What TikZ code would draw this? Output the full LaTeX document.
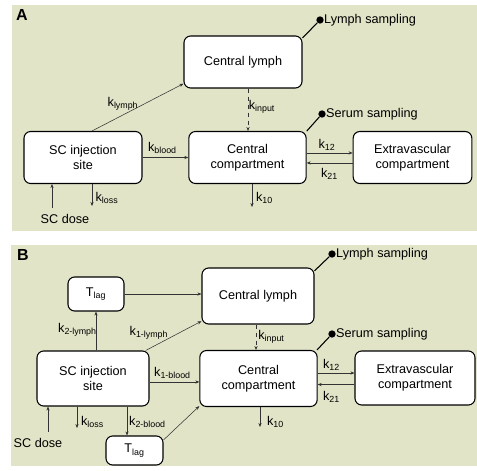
\documentclass[tikz,border=0pt]{standalone}
\usepackage{fontspec}
\setmainfont{Liberation Sans}
\usetikzlibrary{arrows.meta}

\definecolor{panelbg}{RGB}{226,228,199}
\tikzset{
  txt/.style={font=\fontsize{9.5}{11.5}\selectfont, inner sep=1pt},
  comp/.style={draw, line width=0.8pt, fill=white, rounded corners=5pt, align=center,
    font=\fontsize{9.5}{11.5}\selectfont},
  flow/.style={-{Stealth[length=3pt,width=2.4pt]}, line width=0.4pt, black!80},
  sampler/.style={circle, fill=black, inner sep=0pt, minimum size=5.5pt},
  sampline/.style={line width=0.8pt},
  panel/.style={font=\fontsize{12}{12}\selectfont\bfseries}
}

\begin{document}
\begin{tikzpicture}[x=0.75pt, y=-0.75pt]
\useasboundingbox (0,0) rectangle (477,470);
% Backgrounds
\fill[panelbg] (12,5) rectangle (477,231);
\fill[panelbg] (11,245) rectangle (477,466);

%%% Panel A
\node[panel] (labA) at (22,15) {A};
% Nodes
\node[comp, minimum width=88.5pt, minimum height=39pt] (lymphA) at (243,62) {Central lymph};
\node[comp, minimum width=88.5pt, minimum height=39pt] (injA) at (83,157.5) {SC injection\\site};
\node[comp, minimum width=88pt, minimum height=39pt] (centA) at (247.5,157.5) {Central\\compartment};
\node[comp, minimum width=89pt, minimum height=39pt] (extraA) at (412.5,157.5) {Extravascular\\compartment};
\node[sampler, label={[txt, xshift=-1pt]right:Lymph sampling}] (lsampA) at (320,20) {};
\node[sampler, label={[txt, xshift=-1pt]right:Serum sampling}] (ssampA) at (322,114) {};
\coordinate (doseA) at (52,208);
\coordinate (lossA) at (92,206);
\coordinate (elimA) at (252,207);
% Lines
\draw[sampline] (lymphA.22) -- (lsampA);
\draw[sampline] (centA.24) -- (ssampA);
\draw[flow] ([xshift=6.75pt]injA.north) -- (lymphA.200);
\draw[flow, dashed] ([xshift=3.75pt]lymphA.south) -- ([xshift=3.75pt]lymphA.south |- centA.north);
\draw[flow] (injA.east) -- (centA.west);
\draw[flow] ([yshift=3.4pt]centA.east) -- ([yshift=3.4pt]centA.east -| extraA.west);
\draw[flow] ([yshift=-4.1pt]extraA.west) -- ([yshift=-4.1pt]extraA.west -| centA.east);
\draw[flow] (elimA |- centA.south) -- (elimA);
\draw[flow] (lossA |- injA.south) -- (lossA);
\draw[flow] (doseA) -- (doseA |- injA.south);
% Labels
\node[txt] (klymphA) at (123,104) {k\textsubscript{lymph}};
\node[txt] (kinputA) at (262,107) {k\textsubscript{input}};
\node[txt] (kbloodA) at (162.5,148) {k\textsubscript{blood}};
\node[txt] (k12A) at (327,145) {k\textsubscript{12}};
\node[txt] (k21A) at (329.5,174) {k\textsubscript{21}};
\node[txt] (k10A) at (264.5,198) {k\textsubscript{10}};
\node[txt] (klossA) at (107,198) {k\textsubscript{loss}};
\node[txt] (doselabA) at (65,219) {SC dose};

%%% Panel B
\node[panel] (labB) at (23,255) {B};
% Nodes
\node[comp, minimum width=84pt, minimum height=42pt] (lymphB) at (258,296) {Central lymph};
\node[comp, minimum width=84pt, minimum height=41.25pt] (injB) at (93,378.5) {SC injection\\site};
\node[comp, minimum width=88pt, minimum height=42pt] (centB) at (258.5,378.5) {Central\\compartment};
\node[comp, minimum width=90pt, minimum height=40.5pt] (extraB) at (415,378) {Extravascular\\compartment};
\node[comp, minimum width=42pt, minimum height=25.5pt] (lagupB) at (96,294) {T\textsubscript{lag}};
\node[comp, minimum width=42.75pt, minimum height=21.75pt] (lagdownB) at (134.5,450.5) {T\textsubscript{lag}};
\node[sampler, label={[txt, xshift=-1pt]right:Lymph sampling}] (lsampB) at (332,254) {};
\node[sampler, label={[txt, xshift=-1pt]right:Serum sampling}] (ssampB) at (332,334) {};
\coordinate (doseB) at (48,432);
\coordinate (lossB) at (77,428);
\coordinate (elimB) at (260,427);
% Lines
\draw[sampline] (lymphB.24) -- (lsampB);
\draw[sampline] (centB.26) -- (ssampB);
\draw[flow] (lagupB.east) -- (lagupB.east -| lymphB.west);
\draw[flow] (lagupB.south |- injB.north) -- (lagupB.south);
\draw[flow] (injB.28) -- (lymphB.204);
\draw[flow] ([yshift=-2.6pt]injB.east) -- ([yshift=-2.6pt]injB.east -| centB.west);
\draw[flow, dashed] ([xshift=-1.5pt]lymphB.south) -- ([xshift=-1.5pt]lymphB.south |- centB.north);
\draw[flow] ([yshift=4.1pt]centB.east) -- ([yshift=4.1pt]centB.east -| extraB.west);
\draw[flow] ([yshift=-4.9pt]extraB.west) -- ([yshift=-4.9pt]extraB.west -| centB.east);
\draw[flow] (elimB |- centB.south) -- (elimB);
\draw[flow] (lossB |- injB.south) -- (lossB);
\draw[flow] ([xshift=25.5pt]injB.south) -- ([xshift=25.5pt]injB.south |- lagdownB.north);
\draw[flow] (lagdownB.20) -- (centB.205);
\draw[flow] (doseB) -- (doseB |- injB.south);
% Labels
\node[txt] (k2lymphB) at (77.5,330) {k\textsubscript{2-lymph}};
\node[txt] (k1lymphB) at (149,333) {k\textsubscript{1-lymph}};
\node[txt] (kinputB) at (271.5,337) {k\textsubscript{input}};
\node[txt] (k1bloodB) at (172.5,373) {k\textsubscript{1-blood}};
\node[txt] (k12B) at (331.5,365) {k\textsubscript{12}};
\node[txt] (k21B) at (331.5,397) {k\textsubscript{21}};
\node[txt] (k10B) at (275.5,422) {k\textsubscript{10}};
\node[txt] (klossB) at (92.5,422) {k\textsubscript{loss}};
\node[txt] (k2bloodB) at (147.5,422) {k\textsubscript{2-blood}};
\node[txt] (doselabB) at (38,443) {SC dose};
\end{tikzpicture}
\end{document}
